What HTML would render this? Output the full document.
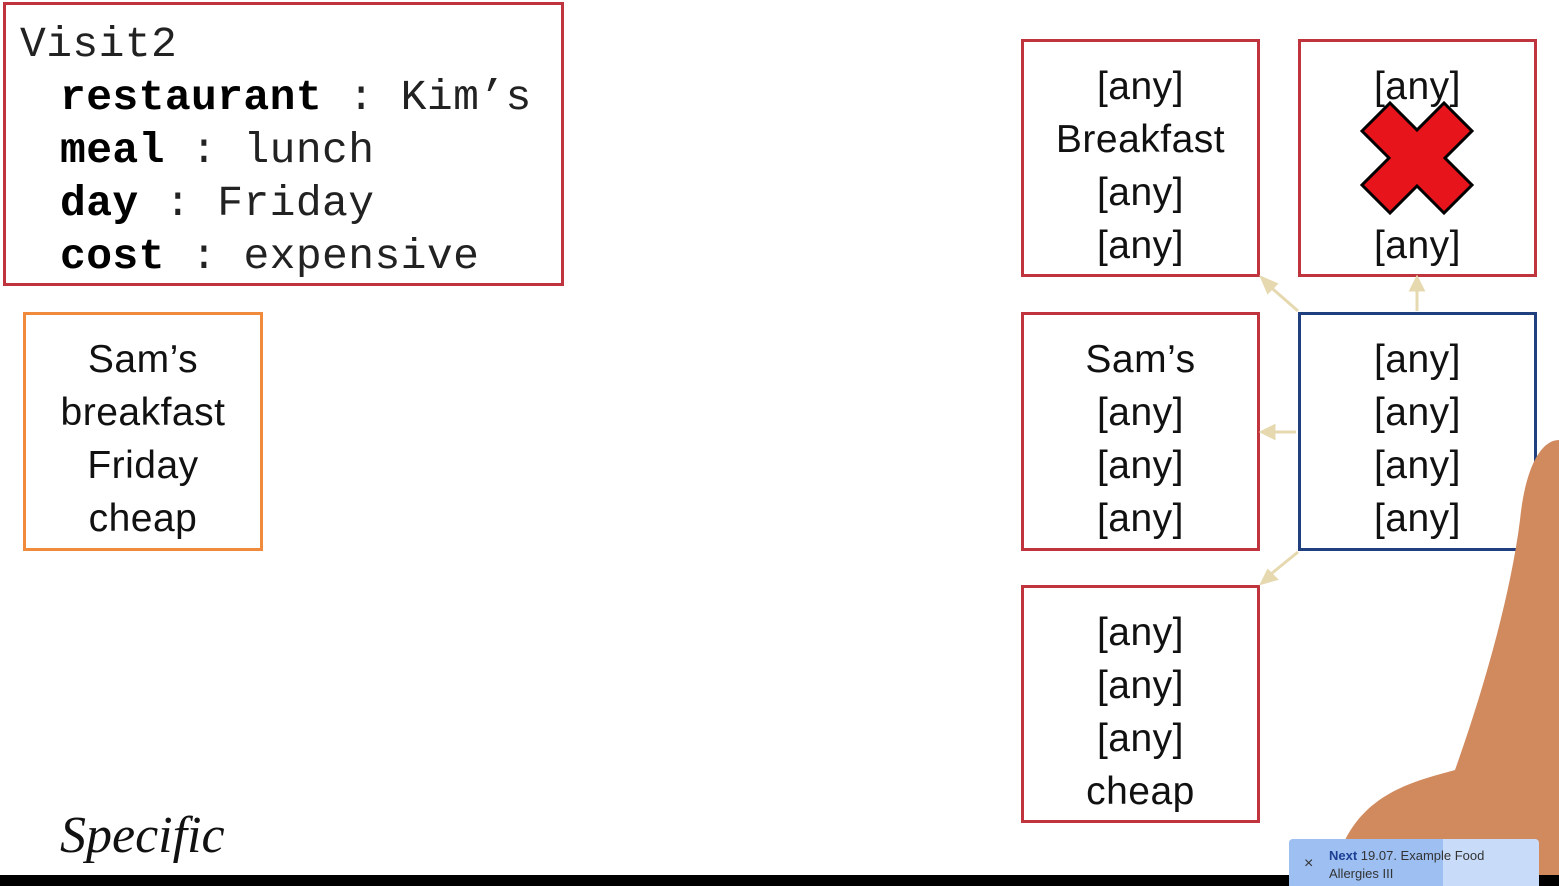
<!DOCTYPE html>
<html><head><style>
body{margin:0;width:1559px;height:886px;background:#fff;position:relative;overflow:hidden;font-family:"Liberation Sans",sans-serif}
.b{position:absolute;box-sizing:border-box;border:3px solid #c0343e;text-align:center;font-size:39px;color:#111;line-height:53px;padding-top:18px;letter-spacing:0.5px}
.m{font-family:"Liberation Mono",monospace;font-size:43px;color:#222;position:absolute;white-space:pre;letter-spacing:0.4px}
.m b{color:#000}
.m div{padding-left:40px}
</style></head><body>
<div style="position:absolute;left:3px;top:2px;width:561px;height:284px;box-sizing:border-box;border:3px solid #c0343e"></div>
<div class="m" style="left:20px;top:18px;line-height:53px">Visit2<div><b>restaurant</b> : Kim’s</div><div><b>meal</b> : lunch</div><div><b>day</b> : Friday</div><div><b>cost</b> : expensive</div></div>
<div class="b" style="left:23px;top:312px;width:240px;height:239px;border-color:#f08a3c">Sam’s<br>breakfast<br>Friday<br>cheap</div>
<div class="b" style="left:1021px;top:39px;width:239px;height:238px">[any]<br>Breakfast<br>[any]<br>[any]</div>
<div class="b" style="left:1298px;top:39px;width:239px;height:238px">[any]<br><br><br>[any]</div>
<div class="b" style="left:1021px;top:312px;width:239px;height:239px">Sam’s<br>[any]<br>[any]<br>[any]</div>
<div class="b" style="left:1298px;top:312px;width:239px;height:239px;border-color:#1f3f7f">[any]<br>[any]<br>[any]<br>[any]</div>
<div class="b" style="left:1021px;top:585px;width:239px;height:238px">[any]<br>[any]<br>[any]<br>cheap</div>
<svg width="1559" height="886" style="position:absolute;left:0;top:0">
<g stroke="#e6d9b0" stroke-width="3" fill="#e6d9b0">
<line x1="1298" y1="311" x2="1266" y2="283"/><polygon points="1262,278 1276,284 1268,292"/>
<line x1="1417" y1="311" x2="1417" y2="285"/><polygon points="1417,278 1411,290 1423,290"/>
<line x1="1296" y1="432" x2="1268" y2="432"/><polygon points="1262,432 1274,426 1274,438"/>
<line x1="1298" y1="552" x2="1266" y2="578"/><polygon points="1262,583 1268,571 1276,579"/>
</g>
<path d="M1559,440 C1540,440 1525,470 1520,520 C1510,600 1480,700 1455,770 C1420,780 1370,790 1345,840 L1340,886 L1559,886 Z" fill="#d08a5e"/>
<path d="M1362,167 L1390,139 L1417,166 L1444,139 L1472,167 L1445,194 L1472,221 L1444,249 L1417,222 L1390,249 L1362,221 L1389,194 Z" transform="translate(0,-36)" fill="#e8141c" stroke="#000" stroke-width="3"/>
</svg>
<div style="position:absolute;left:60px;top:806px;font-family:'Liberation Serif',serif;font-style:italic;font-size:52px;color:#111">Specific</div>
<div style="position:absolute;left:0;top:875px;width:1559px;height:11px;background:#000"></div>
<div style="position:absolute;left:1289px;top:839px;width:250px;height:47px;background:#c8dcfa;border-radius:4px 4px 0 0;font-size:13px;color:#333;line-height:18px">
<div style="position:absolute;left:0;top:0;width:154px;height:47px;background:#9dbff2;border-radius:4px 0 0 0"></div>
<div style="position:absolute;left:15px;top:16px;font-size:16px">×</div>
<div style="position:absolute;left:40px;top:8px;width:200px"><b style="color:#1c3f93">Next</b> 19.07. Example Food Allergies III</div></div>
</body></html>
